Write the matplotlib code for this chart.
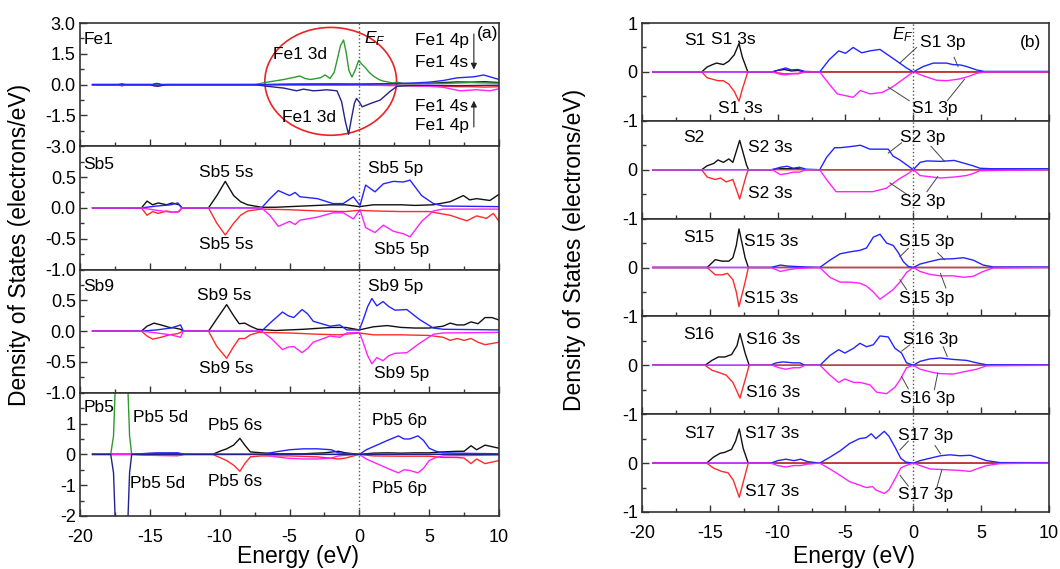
import matplotlib
matplotlib.use('Agg')
import matplotlib.pyplot as plt
from matplotlib.patches import Ellipse
from matplotlib.ticker import MultipleLocator

plt.rcParams['font.family'] = ['Liberation Sans', 'DejaVu Sans']
plt.rcParams['mathtext.fontset'] = 'custom'
plt.rcParams['mathtext.it'] = 'Liberation Sans:italic'
plt.rcParams['mathtext.rm'] = 'Liberation Sans'

# ---- data: (energy eV, DOS) pairs ----
# panel (a)
fe1_3d_up = [(-19.1, 0), (-7.5, 0), (-6.6, 0.12), (-5.4, 0.25), (-4.7, 0.35), (-4.25, 0.42), (-3.9, 0.3),
             (-3.5, 0.25), (-2.8, 0.33), (-2.45, 0.47), (-2.1, 0.3), (-1.8, 0.6), (-1.6, 1.17), (-1.35, 1.9),
             (-1.13, 2.17), (-0.95, 1.6), (-0.75, 0.7), (-0.53, 0.37), (-0.3, 0.7), (-0.05, 1.17), (0.2, 0.98),
             (0.43, 0.83), (0.7, 0.6), (1.0, 0.42), (1.4, 0.25), (1.72, 0.17), (2.4, 0.08), (2.7, 0.12),
             (3.2, 0.05), (4, 0.05), (5, 0.07), (6, 0.06), (7, 0.08), (8, 0.1), (9, 0.08), (10, 0.07)]
fe1_3d_dn = [(-19.1, 0), (-15, 0), (-14.7, -0.06), (-14.4, -0.08), (-14.1, -0.04), (-13.8, 0), (-7.5, 0),
             (-6.6, -0.08), (-5.4, -0.17), (-4.5, -0.3), (-4.0, -0.22), (-3.3, -0.3), (-2.8, -0.28),
             (-2.35, -0.25), (-1.6, -0.3), (-1.27, -0.83), (-1.0, -1.8), (-0.77, -2.42), (-0.55, -1.6),
             (-0.35, -0.9), (-0.2, -0.67), (0.0, -0.85), (0.2, -1.08), (0.5, -1.0), (0.8, -0.92), (1.5, -0.75),
             (2.2, -0.33), (2.7, -0.08), (3.5, -0.05), (5, -0.03), (7, -0.05), (10, -0.03)]
fe1_4s_up = [(-19.1, 0), (-17.3, 0), (-17, 0.03), (-16.7, 0), (-14.8, 0), (-14.5, 0.05), (-14.2, 0), (-7, 0),
             (-5, 0.02), (-2, 0.03), (0, 0.02), (2, 0.04), (4, 0.05), (5, 0.06), (6, 0.1), (7, 0.13), (8, 0.12),
             (9, 0.14), (10, 0.1)]
fe1_4s_dn = [(-19.1, 0), (-17.3, 0), (-17, -0.06), (-16.7, 0), (-14.8, 0), (-14.5, -0.05), (-14.2, 0), (-7, 0),
             (-5, -0.02), (-2, -0.03), (0, -0.02), (2, -0.04), (4, -0.05), (5, -0.06), (6, -0.08), (7, -0.1),
             (8, -0.1), (9, -0.12), (10, -0.1)]
fe1_4p_up = [(-19.1, 0), (-14.8, 0), (-14.5, 0.06), (-14.2, 0), (-7, 0), (-3, 0.02), (0, 0.02), (2, 0.04),
             (3.9, 0.08), (5, 0.12), (6.0, 0.2), (7.0, 0.33), (8.2, 0.38), (8.9, 0.47), (9.6, 0.33), (10, 0.25)]
fe1_4p_dn = [(-19.1, 0), (-17.3, 0), (-17, -0.05), (-16.7, 0), (-14.8, 0), (-14.5, -0.08), (-14.2, 0), (-7, 0),
             (-3, -0.02), (0, -0.02), (2, -0.04), (4, -0.06), (5, -0.08), (6.0, -0.13), (7.2, -0.3), (8.4, -0.25),
             (9.35, -0.3), (10, -0.2)]

sb5_5s_up = [(-19.1, 0), (-15.6, 0), (-15.2, 0.11), (-14.8, 0.05), (-14.4, 0.08), (-13.8, 0.05), (-13.4, 0.08),
             (-12.9, 0.05), (-12.7, 0), (-10.8, 0), (-10.2, 0.2), (-9.6, 0.43), (-9.0, 0.2), (-8.5, 0.1),
             (-8.0, 0.05), (-7.5, 0.03), (-7, 0.01), (-6, 0.01), (-4, 0.03), (-2, 0.05), (-1, 0.05), (0, 0.02),
             (1, 0.05), (2, 0.05), (3, 0.05), (4, 0.04), (5.3, 0.05), (6.5, 0.1), (7.45, 0.2), (7.9, 0.13),
             (8.4, 0.15), (9.35, 0.12), (10, 0.22)]
sb5_5s_dn = [(-19.1, 0), (-15.6, 0), (-15.2, -0.12), (-14.8, -0.06), (-14.4, -0.09), (-13.8, -0.05),
             (-13.4, -0.07), (-12.9, -0.06), (-12.7, 0), (-10.8, 0), (-10.2, -0.25), (-9.6, -0.44), (-9.0, -0.25),
             (-8.5, -0.12), (-8.0, -0.05), (-7, -0.02), (-5, -0.03), (-3, -0.05), (-1, -0.06), (0, -0.04),
             (1, -0.05), (3, -0.06), (5, -0.06), (6.5, -0.12), (7.7, -0.21), (8.4, -0.13), (9.1, -0.17),
             (9.6, -0.09), (10, -0.22)]
sb5_5p_up = [(-19.1, 0), (-15.6, 0), (-14.5, 0.03), (-13.5, 0.05), (-13, 0.08), (-12.7, 0), (-7, 0), (-6.4, 0.15),
             (-5.8, 0.28), (-5.4, 0.24), (-5.0, 0.2), (-4.6, 0.25), (-4.25, 0.18), (-3, 0.15), (-1.9, 0.07),
             (-1.15, 0.07), (-0.43, 0.18), (0.05, 0.04), (0.45, 0.37), (1.12, 0.26), (1.72, 0.39), (2.44, 0.43),
             (3.15, 0.42), (3.63, 0.45), (4.46, 0.2), (5.3, 0.07), (6, 0.03), (10, 0.02)]
sb5_5p_dn = [(-19.1, 0), (-15.6, 0), (-14.5, -0.04), (-13.5, -0.07), (-13, -0.07), (-12.7, 0), (-7, 0),
             (-6.4, -0.12), (-5.8, -0.3), (-5.4, -0.26), (-5.0, -0.22), (-4.6, -0.27), (-4.25, -0.2), (-3, -0.15),
             (-1.9, -0.08), (-1.15, -0.08), (-0.43, -0.18), (0.05, -0.03), (0.45, -0.32), (1.12, -0.4),
             (1.72, -0.28), (2.44, -0.38), (3.15, -0.42), (3.63, -0.47), (4.46, -0.22), (5.3, -0.05),
             (6, -0.02), (10, -0.02)]

sb9_5s_up = [(-19.1, 0), (-15.6, 0), (-15.2, 0.08), (-14.7, 0.13), (-14.2, 0.1), (-13.6, 0.06), (-13.2, 0.05),
             (-12.8, 0.03), (-12.6, 0), (-10.8, 0), (-10.2, 0.2), (-9.5, 0.43), (-9.0, 0.25), (-8.6, 0.12),
             (-8.2, 0.13), (-7.8, 0.08), (-7.3, 0.03), (-6, 0.01), (-4, 0.03), (-2, 0.06), (-1, 0.06), (0, 0.02),
             (1, 0.07), (2, 0.09), (3, 0.06), (4, 0.05), (5, 0.05), (6, 0.08), (6.5, 0.13), (7, 0.1), (7.5, 0.1),
             (8, 0.15), (8.5, 0.12), (9, 0.22), (9.5, 0.22), (10, 0.18)]
sb9_5s_dn = [(-19.1, 0), (-15.6, 0), (-15.2, -0.08), (-14.8, -0.13), (-14.2, -0.1), (-13.6, -0.06), (-13, -0.04),
             (-12.6, 0), (-10.8, 0), (-10.2, -0.25), (-9.5, -0.44), (-9.0, -0.25), (-8.6, -0.12), (-8.2, -0.12),
             (-7.8, -0.06), (-7.2, -0.02), (-5, -0.03), (-3, -0.05), (-1.5, -0.06), (0, -0.03), (1, -0.06),
             (3, -0.06), (5, -0.07), (6, -0.1), (6.5, -0.15), (7, -0.12), (7.5, -0.15), (8, -0.12), (8.5, -0.18),
             (9, -0.22), (9.5, -0.2), (10, -0.18)]
sb9_5p_up = [(-19.1, 0), (-15.6, 0), (-14.5, 0.02), (-13.5, 0.05), (-12.8, 0.1), (-12.6, 0), (-7, 0),
             (-6.3, 0.15), (-5.5, 0.31), (-5.1, 0.25), (-4.7, 0.22), (-4.1, 0.35), (-3.7, 0.28), (-3.3, 0.16),
             (-2.1, 0.08), (-1.4, 0.1), (-0.9, 0.02), (0, 0.02), (0.3, 0.2), (0.6, 0.4), (0.9, 0.53), (1.25, 0.41),
             (1.7, 0.48), (2.1, 0.4), (2.55, 0.34), (3.4, 0.35), (4.3, 0.19), (5.3, 0.05), (6, 0.03), (10, 0.02)]
sb9_5p_dn = [(-19.1, 0), (-15.6, 0), (-14.5, -0.03), (-13.5, -0.06), (-12.8, -0.1), (-12.6, 0), (-7, 0),
             (-6.3, -0.12), (-5.5, -0.3), (-5.1, -0.26), (-4.7, -0.25), (-4.1, -0.35), (-3.7, -0.28),
             (-3.3, -0.18), (-2.1, -0.08), (-1.4, -0.1), (-0.9, -0.03), (0, -0.02), (0.3, -0.2), (0.6, -0.4),
             (0.9, -0.53), (1.25, -0.43), (1.7, -0.48), (2.1, -0.4), (2.55, -0.36), (3.4, -0.35), (4.3, -0.2),
             (5.3, -0.05), (6, -0.03), (10, -0.02)]

pb5_5d_up = [(-19.1, 0), (-17.8, 0), (-17.6, 0.6), (-17.45, 2.5), (-17.2, 6), (-17.0, 8), (-16.8, 6),
             (-16.6, 2.5), (-16.45, 0.6), (-16.3, 0), (10, 0)]
pb5_5d_dn = [(-19.1, 0), (-17.8, 0), (-17.6, -0.6), (-17.45, -2.5), (-17.2, -6), (-17.0, -8), (-16.8, -6),
             (-16.6, -2.5), (-16.45, -0.6), (-16.3, 0), (10, 0)]
pb5_6s_up = [(-19.1, 0), (-16.3, 0), (-15, 0.02), (-14.5, 0.04), (-13, 0.03), (-12.5, 0), (-10.5, 0), (-10, 0.1),
             (-9.5, 0.18), (-9, 0.3), (-8.55, 0.52), (-8.2, 0.3), (-7.8, 0.08), (-7, 0.05), (-6, 0.02), (-4, 0.02),
             (-2.5, 0.05), (-1.5, 0.1), (-1, 0.05), (0, 0), (1, 0.04), (2, 0.05), (3, 0.04), (4, 0.05), (5, 0.05),
             (6, 0.08), (7, 0.1), (7.5, 0.1), (8, 0.28), (8.4, 0.15), (9, 0.3), (9.5, 0.25), (10, 0.2)]
pb5_6s_dn = [(-19.1, 0), (-16.3, 0), (-15, -0.03), (-13, -0.04), (-12.5, 0), (-10.5, 0), (-10, -0.1),
             (-9.5, -0.2), (-9, -0.35), (-8.55, -0.55), (-8.2, -0.3), (-7.8, -0.08), (-7, -0.05), (-5, -0.05),
             (-3, -0.08), (-1.5, -0.15), (-1, -0.12), (0, 0), (1, -0.05), (3, -0.06), (5, -0.06), (6, -0.1),
             (7, -0.1), (7.5, -0.12), (8, -0.3), (8.4, -0.15), (9, -0.3), (9.5, -0.25), (10, -0.2)]
pb5_6p_up = [(-19.1, 0), (-16.3, 0), (-15, 0.04), (-13, 0.05), (-12.5, 0), (-7, 0), (-6, 0.08), (-5, 0.15),
             (-4, 0.18), (-3, 0.18), (-2, 0.15), (-1.5, 0.05), (-1, 0.03), (0, 0), (0.5, 0.15), (1, 0.25),
             (1.5, 0.35), (2, 0.45), (2.8, 0.6), (3.2, 0.5), (3.6, 0.5), (4.2, 0.6), (4.6, 0.45), (5, 0.2),
             (5.5, 0.1), (6, 0.05), (8, 0.03), (10, 0.02)]
pb5_6p_dn = [(-19.1, 0), (-16.3, 0), (-15, -0.03), (-13, -0.04), (-12.5, 0), (-7, 0), (-6, -0.08), (-5, -0.13),
             (-4, -0.15), (-3, -0.15), (-2, -0.12), (-1.5, -0.05), (-1, -0.03), (0, 0), (0.5, -0.15), (1, -0.25),
             (1.5, -0.35), (2, -0.45), (2.8, -0.6), (3.2, -0.5), (3.6, -0.52), (4.2, -0.6), (4.6, -0.45),
             (5, -0.2), (5.5, -0.1), (6, -0.05), (10, -0.02)]

# panel (b)
s1_3s_up = [(-19.2, 0), (-15.6, 0), (-15.2, 0.1), (-14.8, 0.15), (-14.5, 0.18), (-14.0, 0.15), (-13.6, 0.22),
            (-13.2, 0.35), (-12.85, 0.58), (-12.6, 0.3), (-12.2, 0), (-10.4, 0), (-10, 0.03), (-9.5, 0.05),
            (-9, 0.02), (-8.5, 0.03), (-8, 0), (10, 0)]
s1_3s_dn = [(-19.2, 0), (-15.6, 0), (-15.2, -0.12), (-14.8, -0.15), (-14.4, -0.18), (-14, -0.18), (-13.6, -0.25),
            (-13.2, -0.4), (-12.85, -0.6), (-12.6, -0.35), (-12.2, 0), (-10.4, 0), (-9.5, -0.04), (-8.5, -0.03),
            (-8, 0), (10, 0)]
s1_3p_up = [(-19.2, 0), (-10.4, 0), (-9.8, 0.05), (-9.4, 0.08), (-9, 0.04), (-8.5, 0.05), (-8, 0.01), (-6.9, 0),
            (-6.2, 0.25), (-5.5, 0.43), (-5.0, 0.38), (-4.43, 0.5), (-3.81, 0.39), (-3.2, 0.43), (-2.46, 0.46),
            (-1.73, 0.32), (-1.0, 0.18), (-0.5, 0.08), (0, 0), (0.73, 0.11), (1.47, 0.18), (2.45, 0.18),
            (2.9, 0.15), (3.5, 0.14), (3.93, 0.11), (4.66, 0.04), (5.2, 0.01), (10, 0.01)]
s1_3p_dn = [(-19.2, 0), (-10.4, 0), (-9.8, -0.05), (-9.4, -0.06), (-9, -0.04), (-8.5, -0.04), (-8, 0), (-6.9, 0),
            (-6.2, -0.25), (-5.6, -0.45), (-4.43, -0.52), (-3.9, -0.38), (-3.2, -0.45), (-2.3, -0.42),
            (-1.6, -0.32), (-1.0, -0.2), (-0.5, -0.1), (0, 0), (0.73, -0.08), (1.7, -0.17), (2.45, -0.18),
            (3.3, -0.15), (4.0, -0.1), (4.66, -0.03), (5.3, 0), (10, 0)]

s2_3s_up = [(-19.2, 0), (-15.6, 0), (-15.2, 0.08), (-14.7, 0.13), (-14.4, 0.2), (-14.0, 0.15), (-13.6, 0.22),
            (-13.3, 0.15), (-12.8, 0.6), (-12.3, 0.1), (-12.15, 0), (-10.5, 0), (-9.8, 0.02), (-8.5, 0.02),
            (-8, 0), (10, 0)]
s2_3s_dn = [(-19.2, 0), (-15.6, 0), (-15.2, -0.15), (-14.6, -0.2), (-14.2, -0.17), (-13.8, -0.25),
            (-13.3, -0.2), (-12.8, -0.6), (-12.3, -0.1), (-12.15, 0), (10, 0)]
s2_3p_up = [(-19.2, 0), (-10.4, 0), (-9.8, 0.05), (-9.3, 0.07), (-8.85, 0.03), (-8.4, 0.05), (-7.9, 0.01),
            (-6.9, 0), (-6.4, 0.25), (-5.8, 0.45), (-5.4, 0.45), (-4.7, 0.47), (-3.9, 0.5), (-3.2, 0.42),
            (-2.5, 0.42), (-1.85, 0.42), (-1.5, 0.28), (-1.0, 0.2), (-0.5, 0.1), (0, 0), (0.5, 0.15), (1.0, 0.18),
            (2.0, 0.17), (3.0, 0.19), (3.9, 0.12), (4.4, 0.08), (4.9, 0.03), (5.7, 0.02), (10, 0.02)]
s2_3p_dn = [(-19.2, 0), (-10.4, 0), (-9.8, -0.1), (-9.3, -0.08), (-8.85, -0.05), (-8.4, -0.05), (-7.9, 0),
            (-6.9, 0), (-6.4, -0.2), (-5.7, -0.45), (-5.0, -0.45), (-3.9, -0.45), (-3.0, -0.45), (-2.0, -0.38),
            (-1.5, -0.28), (-1.0, -0.18), (-0.5, -0.1), (0, 0), (0.5, -0.12), (2.0, -0.17), (3.0, -0.15),
            (3.9, -0.12), (4.4, -0.08), (4.9, -0.02), (10, 0)]

s15_3s_up = [(-19.2, 0), (-15.2, 0), (-14.6, 0.16), (-14.1, 0.13), (-13.6, 0.13), (-13.3, 0.2), (-13.05, 0.45),
             (-12.85, 0.79), (-12.4, 0.2), (-12.16, 0), (10, 0)]
s15_3s_dn = [(-19.2, 0), (-15.2, 0), (-14.6, -0.15), (-14.1, -0.15), (-13.7, -0.12), (-13.3, -0.25),
             (-13.05, -0.5), (-12.85, -0.8), (-12.4, -0.3), (-12.16, 0), (10, 0)]
s15_3p_up = [(-19.2, 0), (-10.5, 0), (-9.8, 0.05), (-9.3, 0.03), (-8.6, 0.02), (-7.9, 0.01), (-6.9, 0),
             (-6.15, 0.15), (-5.4, 0.28), (-4.67, 0.32), (-3.94, 0.35), (-3.45, 0.4), (-2.95, 0.62),
             (-2.46, 0.68), (-1.97, 0.5), (-1.48, 0.45), (-1.1, 0.3), (-0.74, 0.12), (-0.37, 0.02), (0, 0),
             (0.49, 0.07), (1.2, 0.12), (1.97, 0.17), (2.95, 0.18), (3.7, 0.2), (4.42, 0.15), (5.15, 0.05),
             (5.9, 0.01), (10, 0.01)]
s15_3p_dn = [(-19.2, 0), (-10.5, 0), (-9.8, -0.08), (-9.3, -0.05), (-8.6, -0.02), (-6.9, 0), (-6.15, -0.2),
             (-5.4, -0.3), (-4.67, -0.3), (-3.94, -0.32), (-3.45, -0.38), (-2.95, -0.5), (-2.46, -0.65),
             (-1.97, -0.55), (-1.48, -0.45), (-1.0, -0.3), (-0.5, -0.1), (0, 0), (0.49, -0.08), (1.2, -0.14),
             (1.97, -0.17), (2.95, -0.17), (3.7, -0.2), (4.42, -0.18), (5.15, -0.08), (5.9, -0.01), (10, 0)]

s16_3s_up = [(-19.2, 0), (-15.35, 0), (-14.85, 0.1), (-14.37, 0.17), (-13.9, 0.17), (-13.4, 0.22), (-13.0, 0.4),
             (-12.78, 0.65), (-12.4, 0.25), (-12.1, 0), (10, 0)]
s16_3s_dn = [(-19.2, 0), (-15.35, 0), (-14.85, -0.1), (-14.3, -0.15), (-13.8, -0.2), (-13.3, -0.35),
             (-12.78, -0.67), (-12.4, -0.3), (-12.1, 0), (10, 0)]
s16_3p_up = [(-19.2, 0), (-10.57, 0), (-10.1, 0.05), (-9.6, 0.07), (-8.85, 0.05), (-8.36, 0.05), (-8.0, 0),
             (-6.88, 0), (-6.15, 0.2), (-5.5, 0.32), (-5.05, 0.25), (-4.4, 0.35), (-3.94, 0.45), (-3.45, 0.38),
             (-2.95, 0.42), (-2.46, 0.6), (-1.85, 0.58), (-1.36, 0.35), (-0.87, 0.25), (-0.5, 0.05), (0, 0),
             (0.49, 0.08), (1.2, 0.13), (1.97, 0.15), (2.95, 0.12), (3.93, 0.1), (4.67, 0.05), (5.4, 0.01),
             (10, 0.01)]
s16_3p_dn = [(-19.2, 0), (-10.4, 0), (-9.9, -0.05), (-9.4, -0.08), (-8.85, -0.05), (-8.36, -0.05), (-8.0, 0),
             (-6.88, 0), (-6.15, -0.2), (-5.5, -0.35), (-5.05, -0.28), (-4.4, -0.35), (-3.94, -0.35),
             (-3.2, -0.4), (-2.7, -0.55), (-1.97, -0.58), (-1.36, -0.45), (-0.99, -0.3), (-0.5, -0.05), (0, 0),
             (0.49, -0.08), (1.5, -0.15), (1.97, -0.17), (2.95, -0.18), (3.93, -0.12), (4.67, -0.08),
             (5.4, -0.01), (10, 0)]

s17_3s_up = [(-19.2, 0), (-15.23, 0), (-14.74, 0.12), (-14.25, 0.2), (-13.9, 0.22), (-13.4, 0.28), (-13.1, 0.45),
             (-12.83, 0.7), (-12.54, 0.3), (-12.17, 0), (10, 0)]
s17_3s_dn = [(-19.2, 0), (-15.23, 0), (-14.74, -0.1), (-14.13, -0.17), (-13.65, -0.2), (-13.27, -0.35),
             (-12.83, -0.7), (-12.5, -0.35), (-12.17, 0), (10, 0)]
s17_3p_up = [(-19.2, 0), (-10.5, 0), (-10.0, 0.05), (-9.4, 0.08), (-8.8, 0.05), (-8.3, 0.08), (-7.8, 0.03),
             (-6.9, 0), (-6.15, 0.12), (-5.4, 0.25), (-4.7, 0.4), (-3.97, 0.5), (-3.48, 0.52), (-3.1, 0.6),
             (-2.76, 0.5), (-2.14, 0.65), (-1.8, 0.55), (-1.3, 0.3), (-0.93, 0.1), (-0.55, 0.02), (0, 0),
             (0.5, 0.05), (1.23, 0.1), (2.0, 0.15), (2.7, 0.17), (3.45, 0.15), (4.2, 0.16), (4.65, 0.12),
             (5.4, 0.05), (6.4, 0.01), (10, 0.01)]
s17_3p_dn = [(-19.2, 0), (-10.5, 0), (-10.0, -0.05), (-9.4, -0.08), (-8.8, -0.05), (-8.3, -0.05), (-7.8, -0.02),
             (-6.9, 0), (-6.15, -0.12), (-5.4, -0.25), (-4.7, -0.38), (-3.97, -0.45), (-3.48, -0.5),
             (-3.0, -0.48), (-2.76, -0.55), (-2.14, -0.62), (-1.8, -0.55), (-1.3, -0.3), (-0.93, -0.1),
             (-0.55, -0.05), (0, 0), (0.5, -0.05), (1.23, -0.12), (2.0, -0.13), (3.45, -0.15), (4.2, -0.17),
             (4.65, -0.12), (5.4, -0.05), (6.4, -0.01), (10, 0)]

energy_ticks = [-20, -15, -10, -5, 0, 5, 10]

BLACK = '#111111'
RED = '#ff2a2a'
BLUE = '#2424ff'
MAGENTA = '#ff22ff'
GREEN = '#2f9a2f'
NAVY = '#22228c'
FS_TICK = 13
FS_TXT = 12.5


def draw(ax, pts, color):
    ax.plot([p[0] for p in pts], [p[1] for p in pts], color=color, lw=1.0)


def style(ax, ylim, yticks, ylabels, yminor, bottom):
    ax.set_xlim(-20, 10)
    ax.set_ylim(ylim)
    ax.xaxis.set_major_locator(MultipleLocator(5))
    ax.xaxis.set_minor_locator(MultipleLocator(2.5))
    ax.set_yticks(yticks)
    ax.set_yticklabels(ylabels)
    ax.yaxis.set_minor_locator(MultipleLocator(yminor))
    ax.tick_params(which='both', direction='in', top=False, right=False, labelsize=FS_TICK,
                   width=1.0, color='#333333', pad=3)
    ax.tick_params(which='major', length=5)
    ax.tick_params(which='minor', length=3)
    for s in ax.spines.values():
        s.set_linewidth(1.2)
        s.set_color('#333333')
    if bottom:
        ax.set_xticks(energy_ticks)
        ax.set_xticklabels([str(t) for t in energy_ticks])
        ax.tick_params(axis='x', which='major', pad=9)
    else:
        ax.tick_params(labelbottom=False)
    ax.axvline(0, color='#555555', ls=':', lw=1.0)


def txt(ax, x, y, s, **kw):
    ax.text(x, y, s, fontsize=FS_TXT, ha='left', va='center', **kw)


def leader(ax, x0, y0, x1, y1):
    ax.plot([x0, x1], [y0, y1], color='#444444', lw=0.7)


fig = plt.figure(figsize=(10.6, 5.69), dpi=100)
W, H = 1060.0, 569.0

# ---------------- panel (a) ----------------
lx0, lx1, ltop, lbot = 80, 499, 23, 516
lh = (lbot - ltop) / 4.0
axl = []
for i in range(4):
    y_top = ltop + i * lh
    axl.append(fig.add_axes([lx0 / W, 1 - (y_top + lh) / H, (lx1 - lx0) / W, lh / H]))

ax = axl[0]
for c, col in [(fe1_4s_up, BLACK), (fe1_4s_dn, RED), (fe1_4p_dn, MAGENTA), (fe1_3d_up, GREEN),
               (fe1_3d_dn, NAVY), (fe1_4p_up, BLUE)]:
    draw(ax, c, col)
style(ax, (-3, 3), [-3, -1.5, 0, 1.5, 3], ['-3.0', '-1.5', '0.0', '1.5', '3.0'], 0.75, False)
ax.add_patch(Ellipse((-2.05, 0.16), 9.43, 5.25, fill=False, ec='#ee2222', lw=1.2))
txt(ax, -19.75, 2.2, 'Fe1')
txt(ax, -6.2, 1.45, 'Fe1 3d')
txt(ax, -5.55, -1.6, 'Fe1 3d')
txt(ax, 0.3, 2.25, r'$\mathit{E}_\mathit{F}$')
txt(ax, 3.95, 2.17, 'Fe1 4p')
txt(ax, 3.95, 1.08, 'Fe1 4s')
txt(ax, 3.95, -1.08, 'Fe1 4s')
txt(ax, 3.95, -2.0, 'Fe1 4p')
txt(ax, 8.45, 2.5, '(a)')
ax.annotate('', xy=(8.2, 0.6), xytext=(8.2, 2.6),
            arrowprops=dict(arrowstyle='-|>', color='#222222', lw=0.8, mutation_scale=9))
ax.annotate('', xy=(8.2, -0.65), xytext=(8.2, -2.2),
            arrowprops=dict(arrowstyle='-|>', color='#222222', lw=0.8, mutation_scale=9))

sb_ticks = [-1, -0.5, 0, 0.5]
sb_labels = ['-1.0', '-0.5', '0.0', '0.5']

ax = axl[1]
for c, col in [(sb5_5s_up, BLACK), (sb5_5s_dn, RED), (sb5_5p_up, BLUE), (sb5_5p_dn, MAGENTA)]:
    draw(ax, c, col)
style(ax, (-1, 1), sb_ticks, sb_labels, 0.25, False)
txt(ax, -19.75, 0.7, 'Sb5')
txt(ax, -11.5, 0.57, 'Sb5 5s')
txt(ax, -11.5, -0.6, 'Sb5 5s')
txt(ax, 0.6, 0.64, 'Sb5 5p')
txt(ax, 1.05, -0.68, 'Sb5 5p')

ax = axl[2]
for c, col in [(sb9_5s_up, BLACK), (sb9_5s_dn, RED), (sb9_5p_up, BLUE), (sb9_5p_dn, MAGENTA)]:
    draw(ax, c, col)
style(ax, (-1, 1), sb_ticks, sb_labels, 0.25, False)
txt(ax, -19.75, 0.73, 'Sb9')
txt(ax, -11.6, 0.57, 'Sb9 5s')
txt(ax, -11.5, -0.6, 'Sb9 5s')
txt(ax, 0.65, 0.73, 'Sb9 5p')
txt(ax, 1.05, -0.68, 'Sb9 5p')

ax = axl[3]
for c, col in [(pb5_6s_up, BLACK), (pb5_6s_dn, RED), (pb5_6p_up, BLUE), (pb5_6p_dn, MAGENTA),
               (pb5_5d_up, GREEN), (pb5_5d_dn, NAVY)]:
    draw(ax, c, col)
style(ax, (-2, 2), [-2, -1, 0, 1], ['-2', '-1', '0', '1'], 0.5, True)
txt(ax, -19.75, 1.53, 'Pb5')
txt(ax, -16.2, 1.21, 'Pb5 5d')
txt(ax, -16.4, -0.94, 'Pb5 5d')
txt(ax, -10.8, 0.93, 'Pb5 6s')
txt(ax, -10.8, -0.88, 'Pb5 6s')
txt(ax, 0.9, 1.09, 'Pb5 6p')
txt(ax, 0.9, -1.1, 'Pb5 6p')

# ---------------- panel (b) ----------------
rx0, rx1, rtop, rbot = 642, 1049, 23, 512
rh = (rbot - rtop) / 5.0
axr = []
for i in range(5):
    y_top = rtop + i * rh
    axr.append(fig.add_axes([rx0 / W, 1 - (y_top + rh) / H, (rx1 - rx0) / W, rh / H]))

s_sets = [
    ('S1', s1_3s_up, s1_3s_dn, s1_3p_up, s1_3p_dn),
    ('S2', s2_3s_up, s2_3s_dn, s2_3p_up, s2_3p_dn),
    ('S15', s15_3s_up, s15_3s_dn, s15_3p_up, s15_3p_dn),
    ('S16', s16_3s_up, s16_3s_dn, s16_3p_up, s16_3p_dn),
    ('S17', s17_3s_up, s17_3s_dn, s17_3p_up, s17_3p_dn),
]
# label positions: name, 3s up, 3s down, 3p up, 3p down
s_text = [
    ((-16.9, 0.64), (-14.9, 0.67), (-14.4, -0.75), (0.49, 0.6), (-0.13, -0.75)),
    ((-16.95, 0.66), (-12.15, 0.45), (-12.15, -0.48), (-0.99, 0.66), (-0.99, -0.65)),
    ((-16.95, 0.62), (-12.45, 0.53), (-12.45, -0.63), (-1.04, 0.53), (-1.04, -0.63)),
    ((-16.95, 0.63), (-12.3, 0.53), (-12.3, -0.55), (-0.75, 0.53), (-0.99, -0.67)),
    ((-16.9, 0.61), (-12.4, 0.6), (-12.4, -0.59), (-1.1, 0.56), (-1.1, -0.64)),
]
# leader lines for the 3p labels: (x0, y0, x1, y1)
s_leaders = [
    [(-1.0, 0.18, 0.24, 0.5), (3.3, 0.11, 3.0, 0.3), (-1.85, -0.31, -0.3, -0.59), (3.77, -0.15, 2.5, -0.59)],
    [(-1.85, 0.34, -0.87, 0.55), (2.3, 0.17, 1.3, 0.48), (-1.73, -0.27, -0.5, -0.5), (1.8, -0.14, 1.0, -0.45)],
    [(-0.99, 0.22, -0.37, 0.39), (2.3, 0.16, 1.8, 0.3), (-0.99, -0.25, -0.5, -0.45), (2.0, -0.12, 2.4, -0.42)],
    [(-0.86, 0.29, -0.25, 0.42), (2.5, 0.18, 2.2, 0.38), (-0.86, -0.23, -0.37, -0.48), (1.8, -0.16, 1.55, -0.5)],
    [(-0.98, 0.27, -0.37, 0.45), (2.0, 0.19, 1.6, 0.36), (-0.98, -0.25, -0.37, -0.47), (2.1, -0.14, 1.75, -0.48)],
]

for i, (name, su, sd, pu, pd) in enumerate(s_sets):
    ax = axr[i]
    for c, col in [(su, BLACK), (sd, RED), (pu, BLUE), (pd, MAGENTA)]:
        draw(ax, c, col)
    if i == 0:
        style(ax, (-1, 1), [-1, 0, 1], ['-1', '0', '1'], 0.5, False)
    else:
        style(ax, (-1, 1), [-1, 0], ['-1', '0'], 0.5, i == 4)
    pos = s_text[i]
    txt(ax, pos[0][0], pos[0][1], name)
    txt(ax, pos[1][0], pos[1][1], name + ' 3s')
    txt(ax, pos[2][0], pos[2][1], name + ' 3s')
    txt(ax, pos[3][0], pos[3][1], name + ' 3p')
    txt(ax, pos[4][0], pos[4][1], name + ' 3p')
    for (a, b, c2, d) in s_leaders[i]:
        leader(ax, a, b, c2, d)

txt(axr[0], -1.55, 0.76, r'$\mathit{E}_\mathit{F}$')
txt(axr[0], 7.85, 0.6, '(b)')

# axis titles
fig.text(20 / W, 1 - 245 / H, 'Density of States (electrons/eV)', rotation=90, ha='center', va='center',
         fontsize=16.5)
fig.text(575 / W, 1 - 250 / H, 'Density of States (electrons/eV)', rotation=90, ha='center', va='center',
         fontsize=16.5)
fig.text(298 / W, 1 - 557 / H, 'Energy (eV)', ha='center', va='center', fontsize=16.5)
fig.text(854 / W, 1 - 557 / H, 'Energy (eV)', ha='center', va='center', fontsize=16.5)

fig.savefig('out.png', dpi=100)
plt.close(fig)
